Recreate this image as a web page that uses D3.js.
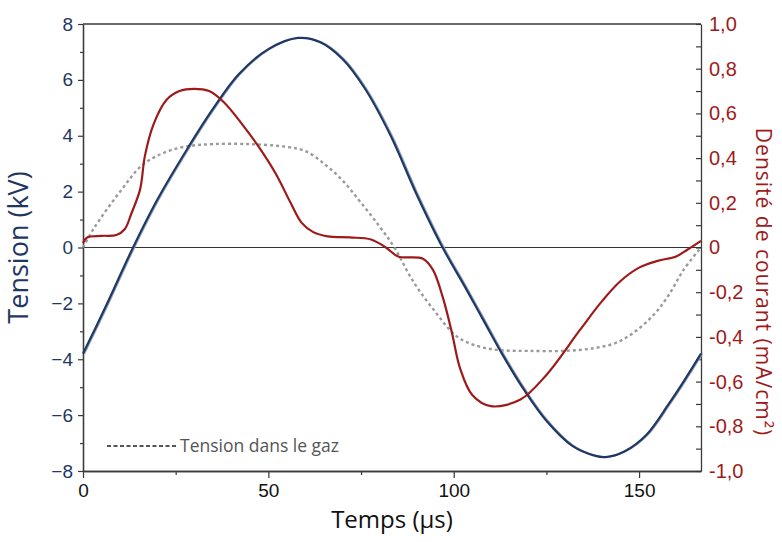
<!DOCTYPE html>
<html>
<head>
<meta charset="utf-8">
<script src="https://cdn.jsdelivr.net/npm/d3@7"></script>
<style>
  body { margin: 0; background: #fff; }
  svg { display: block; font-family: "Open Sans", sans-serif; }
</style>
</head>
<body>
<svg id="chart" width="782" height="542"></svg>
<script>
// temps (µs) / tension appliquee (kV)
const tensionT = [0, 6, 13.5, 20, 28, 35, 42, 50, 58, 64, 70, 76, 83, 90, 97, 103, 108, 113, 119, 125, 132, 138, 141, 146, 152, 158, 162, 166.7];
const tensionV = [-3.8, -2.15, 0, 1.7, 3.5, 4.95, 6.2, 7.1, 7.5, 7.35, 6.75, 5.7, 4.0, 1.9, 0, -1.4, -2.6, -3.8, -5.1, -6.2, -7.1, -7.45, -7.5, -7.3, -6.7, -5.6, -4.8, -3.8];

// tension dans le gaz (kV)
const gazT = [0, 3, 10, 16, 22, 28, 35, 45, 55, 60, 65, 70, 75, 80, 84, 89, 95, 101, 107, 113, 120, 130, 138, 144, 149, 154, 158, 162, 166.7];
const gazV = [0, 0.7, 2.0, 2.95, 3.4, 3.62, 3.7, 3.7, 3.6, 3.45, 3.0, 2.4, 1.6, 0.75, 0, -1.2, -2.3, -3.2, -3.55, -3.68, -3.7, -3.7, -3.6, -3.4, -3.0, -2.4, -1.7, -0.8, 0];

// densite de courant (mA/cm2)
const courantT = [0, 1.1, 5, 9, 11.3, 13, 15.4, 16.7, 19, 22.5, 26, 30, 34, 38, 43, 47, 52, 56, 59, 62, 66, 72, 77.7, 81.7, 85, 91.7, 94.4, 97, 99.5, 101.7, 105, 110, 118, 125, 134, 140, 145, 150, 155, 160, 163, 166.7];
const courantJ = [0.02, 0.045, 0.052, 0.056, 0.083, 0.15, 0.26, 0.41, 0.55, 0.66, 0.70, 0.71, 0.70, 0.65, 0.55, 0.46, 0.33, 0.2, 0.11, 0.07, 0.05, 0.045, 0.036, 0.0, -0.04, -0.05, -0.1, -0.22, -0.38, -0.54, -0.66, -0.71, -0.68, -0.57, -0.37, -0.24, -0.15, -0.09, -0.06, -0.04, -0.01, 0.03];

const xMajor = [0, 50, 100, 150];
const xMinor = [25, 75, 125];
const yLeftMajor = [-8, -6, -4, -2, 0, 2, 4, 6, 8];
const yLeftMinor = [-7, -5, -3, -1, 1, 3, 5, 7];
const yRightTicks = [-1, -0.9, -0.8, -0.7, -0.6, -0.5, -0.4, -0.3, -0.2, -0.1, 0, 0.1, 0.2, 0.3, 0.4, 0.5, 0.6, 0.7, 0.8, 0.9, 1];
const yRightLabels = [-1, -0.8, -0.6, -0.4, -0.2, 0, 0.2, 0.4, 0.6, 0.8, 1];

const navy = "#1f3763", red = "#9e1a1a", gris = "#9a9a9a", axe = "#3a3a3a";

const svg = d3.select("#chart");
const m = { left: 83, right: 81, top: 24, bottom: 71 };
const W = 782, H = 542;

const x = d3.scaleLinear().domain([0, 166.7]).range([m.left, W - m.right]);
const yL = d3.scaleLinear().domain([-8, 8]).range([H - m.bottom, m.top]);
const yR = d3.scaleLinear().domain([-1, 1]).range([H - m.bottom, m.top]);

// axes
const styleAxis = g => {
  g.select(".domain").attr("stroke", axe).attr("stroke-width", 1.3);
  g.selectAll(".tick line").attr("stroke", axe).attr("stroke-width", 1.2);
};

svg.append("g").attr("transform", `translate(0,${H - m.bottom})`)
  .call(d3.axisBottom(x).tickValues(xMajor).tickSize(7).tickPadding(6).tickSizeOuter(0))
  .call(styleAxis)
  .call(g => g.selectAll("text").attr("font-size", 19).attr("fill", "#111"));
svg.append("g").attr("transform", `translate(0,${H - m.bottom})`)
  .call(d3.axisBottom(x).tickValues(xMinor).tickSize(4).tickFormat("").tickSizeOuter(0))
  .call(styleAxis);

svg.append("g").attr("transform", `translate(${m.left},0)`)
  .call(d3.axisLeft(yL).tickValues(yLeftMajor).tickSize(5).tickPadding(5).tickSizeOuter(0))
  .call(styleAxis)
  .call(g => g.selectAll("text").attr("font-size", 19).attr("fill", navy));
svg.append("g").attr("transform", `translate(${m.left},0)`)
  .call(d3.axisLeft(yL).tickValues(yLeftMinor).tickSize(3).tickFormat("").tickSizeOuter(0))
  .call(styleAxis);

const fr = d => d === 0 ? "0" : d.toFixed(1).replace(".", ",");
svg.append("g").attr("transform", `translate(${W - m.right},0)`)
  .call(d3.axisRight(yR).tickValues(yRightTicks).tickSize(-5).tickFormat("").tickSizeOuter(0))
  .call(styleAxis);
svg.append("g").attr("transform", `translate(${W - m.right},0)`)
  .call(d3.axisRight(yR).tickValues(yRightLabels).tickSize(0).tickPadding(8).tickFormat(fr))
  .call(g => g.select(".domain").remove())
  .call(g => g.selectAll("text").attr("font-size", 20).attr("fill", red));

// cadre du haut
svg.append("line")
  .attr("x1", x(0)).attr("x2", x(166.7))
  .attr("y1", yL(8)).attr("y2", yL(8))
  .attr("stroke", axe).attr("stroke-width", 1.3);

// ligne du zero
svg.append("line")
  .attr("x1", x(0)).attr("x2", x(166.7))
  .attr("y1", yL(0)).attr("y2", yL(0))
  .attr("stroke", "#333").attr("stroke-width", 1.2);

const lineL = d3.line().x(d => x(d[0])).y(d => yL(d[1])).curve(d3.curveCatmullRom.alpha(0.5));
const lineR = d3.line().x(d => x(d[0])).y(d => yR(d[1])).curve(d3.curveCatmullRom.alpha(0.5));

// tension dans le gaz
svg.append("path")
  .datum(d3.zip(gazT, gazV))
  .attr("d", lineL)
  .attr("fill", "none").attr("stroke", gris).attr("stroke-width", 2.4)
  .attr("stroke-dasharray", "3,3");

// tension appliquee (double trait)
svg.append("path")
  .datum(d3.zip(tensionT, tensionV))
  .attr("d", lineL)
  .attr("transform", "translate(1.6,0)")
  .attr("fill", "none").attr("stroke", "#8ea0ba").attr("stroke-width", 1.3);
svg.append("path")
  .datum(d3.zip(tensionT, tensionV))
  .attr("d", lineL)
  .attr("fill", "none").attr("stroke", navy).attr("stroke-width", 2.2);

// courant
svg.append("path")
  .datum(d3.zip(courantT, courantJ))
  .attr("d", lineR)
  .attr("fill", "none").attr("stroke", red).attr("stroke-width", 2.2);

// legende
svg.append("line")
  .attr("x1", 107).attr("x2", 176).attr("y1", 446).attr("y2", 446)
  .attr("stroke", "#555").attr("stroke-width", 1.8).attr("stroke-dasharray", "4,2.5");
svg.append("text")
  .attr("x", 180).attr("y", 452)
  .attr("font-size", 17.5).attr("fill", "#555")
  .text("Tension dans le gaz");

// titres
svg.append("text")
  .attr("x", (x(0) + x(166.7)) / 2).attr("y", 528)
  .attr("text-anchor", "middle").attr("font-size", 24).attr("fill", "#111")
  .text("Temps (µs)");

svg.append("text")
  .attr("transform", `translate(28,${yL(0)}) rotate(-90)`)
  .attr("text-anchor", "middle").attr("font-size", 27).attr("fill", navy)
  .text("Tension (kV)");

svg.append("text")
  .attr("transform", `translate(756,282) rotate(90)`)
  .attr("text-anchor", "middle").attr("font-size", 21).attr("letter-spacing", 1)
  .attr("fill", red)
  .text("Densité de courant (mA/cm²)");
</script>
</body>
</html>
